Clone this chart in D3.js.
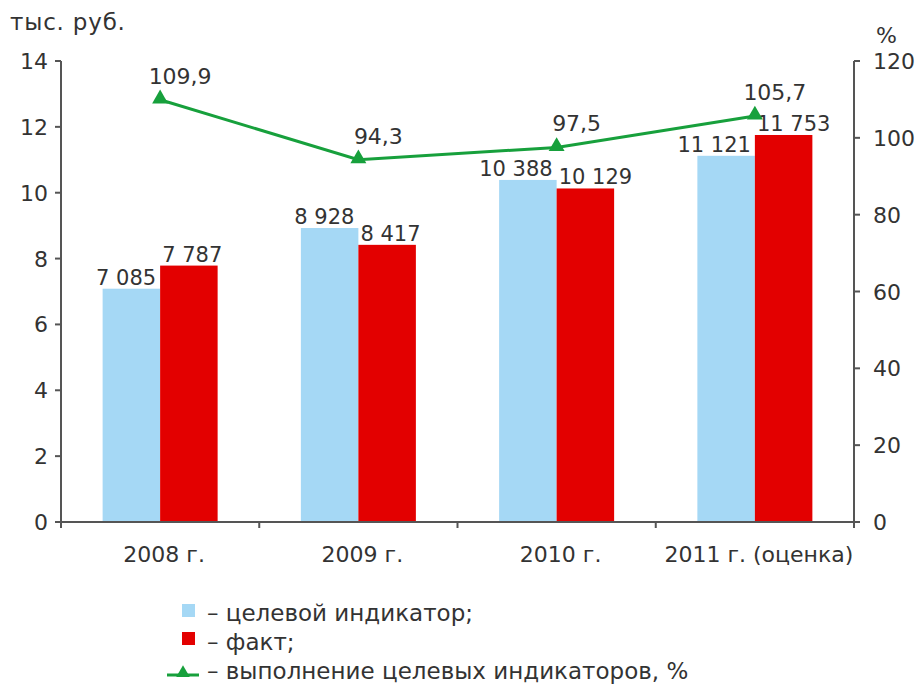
<!DOCTYPE html>
<html><head><meta charset="utf-8">
<script src="https://cdn.jsdelivr.net/npm/d3@7"></script>
<style>body{margin:0;background:#fff}svg{display:block}text{font-family:"DejaVu Sans",sans-serif;fill:#333}</style>
</head><body><svg id="c" width="921" height="685"></svg>
<script>
const categories = ["2008 г.", "2009 г.", "2010 г.", "2011 г. (оценка)"];
const target = [7.085, 8.928, 10.388, 11.121];
const fact = [7.787, 8.417, 10.129, 11.753];
const targetLabels = ["7 085", "8 928", "10 388", "11 121"];
const factLabels = ["7 787", "8 417", "10 129", "11 753"];
const percent = [109.9, 94.3, 97.5, 105.7];
const percentLabels = ["109,9", "94,3", "97,5", "105,7"];
const leftTicks = [0, 2, 4, 6, 8, 10, 12, 14];
const rightTicks = [0, 20, 40, 60, 80, 100, 120];
const legendItems = ["– целевой индикатор;", "– факт;", "– выполнение целевых индикаторов, %"];

const svg = d3.select("#c");
const L = 61, R = 854, T = 61, B = 522;
const axisCol = "#555";
const blue = "#a5d8f5", red = "#e30000", green = "#17a03c";
const fs = 22;

const x = d3.scaleBand().domain(categories).range([L, R]).paddingInner(0).paddingOuter(0);
const sub = d3.scaleBand().domain(["t", "f"]).range([0, 115]);
const yL = d3.scaleLinear().domain([0, 14]).range([B, T]);
const yR = d3.scaleLinear().domain([0, 120]).range([B, T]);
const cx = c => x(c) + x.bandwidth() / 2;
const bx = (c, k) => cx(c) - 57.5 + sub(k);

// bars
const g = svg.append("g");
categories.forEach((c, i) => {
  g.append("rect").attr("x", bx(c, "t")).attr("y", yL(target[i])).attr("width", sub.bandwidth()).attr("height", B - yL(target[i])).attr("fill", blue);
  g.append("rect").attr("x", bx(c, "f")).attr("y", yL(fact[i])).attr("width", sub.bandwidth()).attr("height", B - yL(fact[i])).attr("fill", red);
  g.append("text").attr("x", bx(c, "t") + sub.bandwidth() - 4).attr("y", yL(target[i]) - 4).attr("text-anchor", "end").attr("font-size", 21).text(targetLabels[i]);
  g.append("text").attr("x", bx(c, "f") + 2).attr("y", yL(fact[i]) - 4).attr("text-anchor", "start").attr("font-size", 21).text(factLabels[i]);
});

// axes
const ax = svg.append("g").attr("stroke", axisCol).attr("stroke-width", 2);
ax.append("line").attr("x1", L).attr("x2", L).attr("y1", T).attr("y2", B + 6);
ax.append("line").attr("x1", R).attr("x2", R).attr("y1", T).attr("y2", B + 6);
ax.append("line").attr("x1", L - 6).attr("x2", R + 6).attr("y1", B).attr("y2", B);
leftTicks.forEach(t => {
  ax.append("line").attr("x1", L - 6).attr("x2", L).attr("y1", yL(t)).attr("y2", yL(t));
  svg.append("text").attr("x", L - 13).attr("y", yL(t) + 8).attr("text-anchor", "end").attr("font-size", fs).text(t);
});
rightTicks.forEach(t => {
  ax.append("line").attr("x1", R).attr("x2", R + 6).attr("y1", yR(t)).attr("y2", yR(t));
  svg.append("text").attr("x", R + 19).attr("y", yR(t) + 8).attr("text-anchor", "start").attr("font-size", fs).text(t);
});
categories.forEach((c, i) => {
  ax.append("line").attr("x1", x(c)).attr("x2", x(c)).attr("y1", B).attr("y2", B + 6);
  svg.append("text").attr("x", cx(c) + 4).attr("y", 562).attr("text-anchor", "middle").attr("font-size", fs).text(c);
});

svg.append("text").attr("x", 10).attr("y", 30).attr("font-size", 23).attr("letter-spacing", 0.8).text("тыс. руб.");
svg.append("text").attr("x", 876).attr("y", 43).attr("font-size", fs).text("%");

// line
const px = c => x(c) + x.bandwidth() / 2;
const line = d3.line().x((d, i) => px(categories[i])).y(d => yR(d));
svg.append("path").datum(percent).attr("d", line).attr("fill", "none").attr("stroke", green).attr("stroke-width", 3);
const tri = d3.symbol().type(d3.symbolTriangle).size(110);
percent.forEach((p, i) => {
  svg.append("path").attr("d", tri).attr("transform", `translate(${px(categories[i])},${yR(p) - 1})`).attr("fill", green);
  svg.append("text").attr("x", px(categories[i]) + 20).attr("y", yR(p) - 16).attr("text-anchor", "middle").attr("font-size", fs).text(percentLabels[i]);
});

// legend
const lg = svg.append("g");
lg.append("rect").attr("x", 182).attr("y", 604).attr("width", 13).attr("height", 13).attr("fill", blue);
lg.append("rect").attr("x", 182).attr("y", 632).attr("width", 13).attr("height", 13).attr("fill", red);
lg.append("line").attr("x1", 167).attr("x2", 199).attr("y1", 675).attr("y2", 675).attr("stroke", green).attr("stroke-width", 3);
lg.append("path").attr("d", d3.symbol().type(d3.symbolTriangle).size(80)).attr("transform", "translate(183,673)").attr("fill", green);
legendItems.forEach((t, i) => {
  lg.append("text").attr("x", 207).attr("y", 621 + i * 29).attr("font-size", 23).text(t);
});
</script></body></html>
